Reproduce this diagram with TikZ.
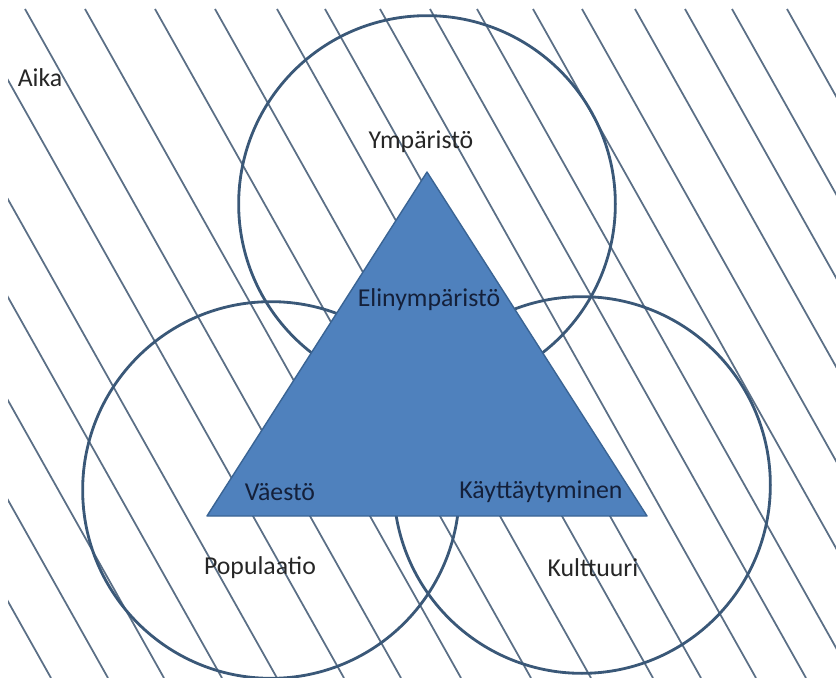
\documentclass[tikz,border=0pt]{standalone}
\usepackage{fontspec}
\setmainfont{Carlito}
\usetikzlibrary{positioning}
\definecolor{hatchgray}{HTML}{5B6F86}
\definecolor{ringblue}{HTML}{3A5878}
\definecolor{triblue}{HTML}{4F81BD}
\definecolor{triedge}{HTML}{3A6494}
\definecolor{navytext}{HTML}{14203A}
\begin{document}
\begin{tikzpicture}[x=0.03cm, y=-0.03cm,
    hatch/.style={hatchgray, line width=1.5pt},
    ring/.style={circle, draw=ringblue, line width=2.4pt, minimum size=11.3cm, inner sep=0pt},
    tri/.style={fill=triblue, draw=triedge, line width=1.2pt, line join=round},
    txt/.style={font=\fontsize{22}{26}\selectfont, text=black!85, inner sep=0pt},
    intxt/.style={txt, text=navytext}]
    \useasboundingbox (0,0) rectangle (836,678);

    % 1. Vinoviivoitus (aika)
    \begin{scope}
        \clip (8,9) rectangle (836,678);
        \foreach \t in {-380,-325,-268,-212,-154,-99,-32,25,85,155,215,277,325,380,430,477,533,582,635,685,732,787}
            \draw[hatch] (\t,9) -- ++(376,669);
    \end{scope}

    % 2. Ympyrät
    \node[ring] (ymp) at (427,204) {};
    \node[ring] (pop) at (271,490) {};
    \node[ring] (kult) at (582,485) {};

    % 3. Kolmio
    \coordinate (apex) at (427,172);
    \coordinate (vasen) at (207,516);
    \coordinate (oikea) at (647,516);
    \draw[tri] (apex) -- (oikea) -- (vasen) -- cycle;

    % 4. Tekstit
    \node[txt] (aika) at (40,78) {Aika};
    \node[txt] (ymptxt) at (421,142) {Ympäristö};
    \node[txt] (poptxt) at (260,568) {Populaatio};
    \node[txt] (kulttxt) at (593,568) {Kulttuuri};
    \node[intxt] (elin) at (429,300) {Elinympäristö};
    \node[intxt] (vaesto) at (280,492) {Väestö};
    \node[intxt] (kayt) at (541,492) {Käyttäytyminen};
\end{tikzpicture}
\end{document}
